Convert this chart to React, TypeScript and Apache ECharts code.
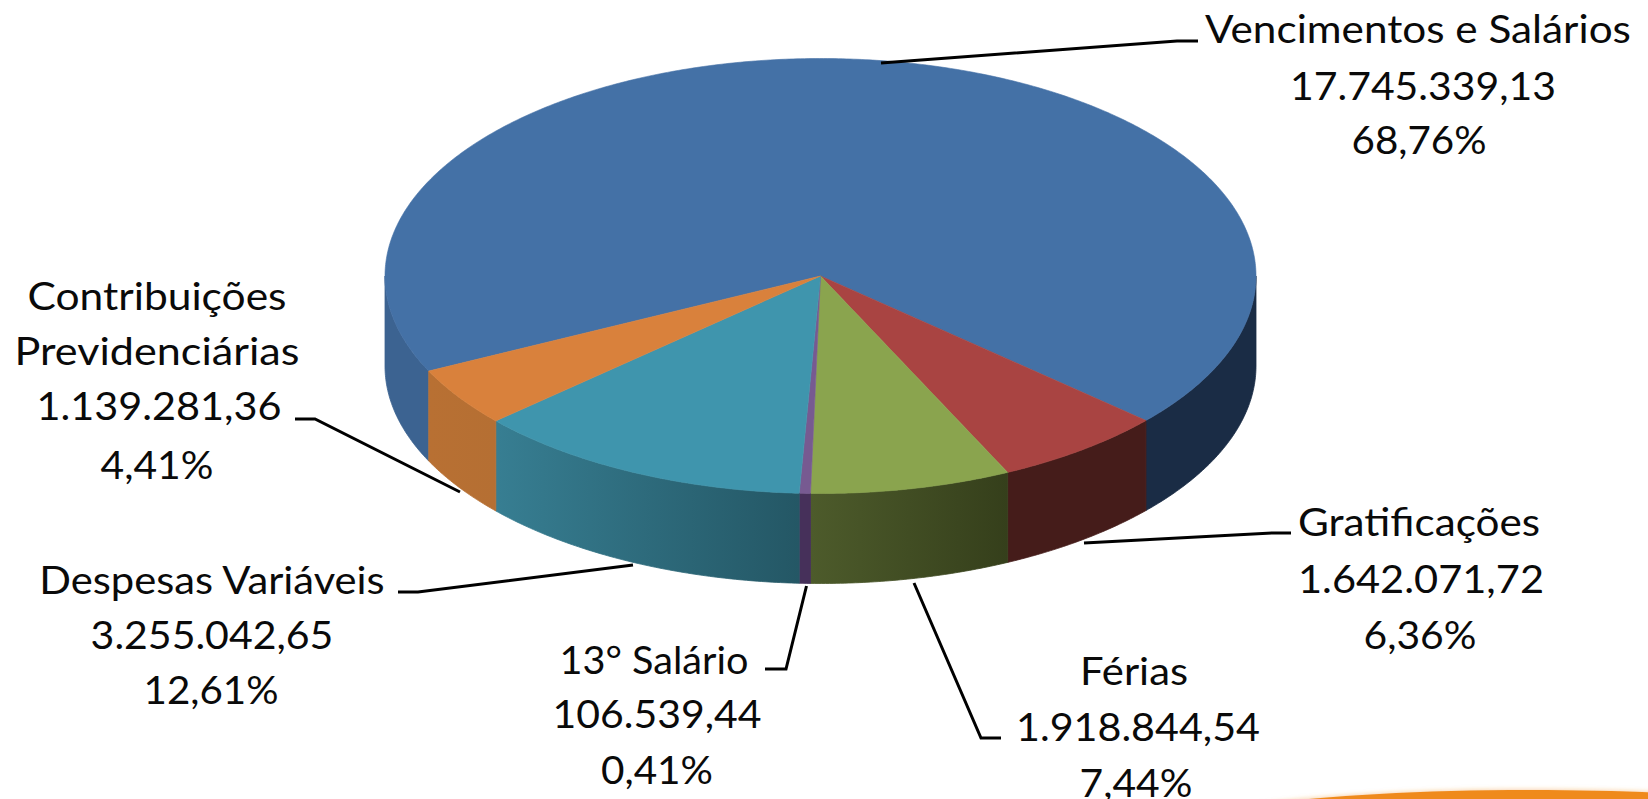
import React, { useEffect, useRef } from "react";
import * as echarts from "echarts";

const categories = ["Vencimentos e Salários", "Gratificações", "Férias", "13° Salário", "Despesas Variáveis", "Contribuições Previdenciárias"];
const values = [17745339.13, 1642071.72, 1918844.54, 106539.44, 3255042.65, 1139281.36];
const valueLabels = ["17.745.339,13", "1.642.071,72", "1.918.844,54", "106.539,44", "3.255.042,65", "1.139.281,36"];
const percentLabels = ["68,76%", "6,36%", "7,44%", "0,41%", "12,61%", "4,41%"];

const topColors = ["#4471a6", "#a94442", "#8aa44e", "#775a91", "#3f95ad", "#d9813c"];
const sideLeft = ["#3c6391", "#451c1a", "#4d5b2b", "#46305a", "#377e92", "#b87033"];
const sideRight = ["#1a2c45", "#451c1a", "#353f1b", "#46305a", "#245765", "#b56f33"];

const CX = 820.5, CY = 276, RX = 435.5, RY = 217.5, DEPTH = 90, START_DEG = 154.1;
const FONT_SIZE = 38, FONT = "Lato";

// one entry per label line: [text, centre x, centre y, target width]
const labelLines: [string, number, number, number][] = [
  [categories[0], 1418, 28, 426],
  [valueLabels[0], 1423, 85, 266],
  [percentLabels[0], 1419, 139, 135],
  [categories[1], 1419, 521, 242],
  [valueLabels[1], 1421, 578, 246],
  [percentLabels[1], 1420, 634, 113],
  [categories[2], 1134, 671, 108],
  [valueLabels[2], 1138, 726, 244],
  [percentLabels[2], 1136, 782, 113],
  [categories[3], 654, 659, 189],
  [valueLabels[3], 657, 713, 209],
  [percentLabels[3], 657, 769, 112],
  [categories[4], 212, 579, 347],
  [valueLabels[4], 212, 634, 243],
  [percentLabels[4], 211, 689, 135],
  ["Contribuições", 157, 295, 259],
  ["Previdenciárias", 157, 351, 285],
  [valueLabels[5], 159, 405, 245],
  [percentLabels[5], 157, 464, 113],
];

const leaderLines: [number, number][][] = [
  [[881, 63], [1177, 41], [1198, 41]],
  [[1084, 543], [1272, 533], [1291, 533]],
  [[914, 583], [981, 738], [1001, 738]],
  [[806.5, 586], [786, 669], [765, 669]],
  [[633, 565], [418, 592], [398, 592]],
  [[460, 492], [315, 419], [295, 419]],
];

const total = values.reduce((a, b) => a + b, 0);

const rim = (deg: number, dy = 0): [number, number] => {
  const r = (deg * Math.PI) / 180;
  return [CX + RX * Math.cos(r), CY + RY * Math.sin(r) + dy];
};
const arc = (a: number, b: number, dy = 0) => {
  const n = Math.max(2, Math.ceil(Math.abs(b - a) / 0.5));
  const pts: [number, number][] = [];
  for (let i = 0; i <= n; i++) pts.push(rim(a + ((b - a) * i) / n, dy));
  return pts;
};

const renderSlice = (params: any, api: any) => {
  const idx = params.dataIndex;
  let before = 0;
  for (let i = 0; i < idx; i++) before += values[i];
  const a = START_DEG + (before / total) * 360;
  const b = a + (api.value(0) / total) * 360;
  const children: any[] = [];
  [[0, 180], [360, 540]].forEach(([lo, hi]) => {
    const s = Math.max(a, lo), e = Math.min(b, hi);
    if (e <= s) return;
    const top = arc(s, e);
    const bottom = arc(e, s, DEPTH);
    const leftCol = lo === 0 && idx === 0 ? sideLeft[idx] : lo === 360 && idx === 0 ? sideRight[idx] : null;
    const fill = leftCol
      ? leftCol
      : new echarts.graphic.LinearGradient(0, 0, 1, 0, [
          { offset: 0, color: sideLeft[idx] },
          { offset: 1, color: sideRight[idx] },
        ]);
    children.push({
      type: "polygon",
      shape: { points: [...top, ...bottom] },
      style: { fill, stroke: fill, lineWidth: 0.8 },
    });
  });
  children.push({
    type: "polygon",
    shape: { points: [[CX, CY], ...arc(a, b)] },
    style: { fill: topColors[idx], stroke: topColors[idx], lineWidth: 0.6 },
  });
  return { type: "group", children };
};

const measureCtx = document.createElement("canvas").getContext("2d")!;
const fitScale = (text: string, width: number) => {
  measureCtx.font = `${FONT_SIZE}px ${FONT}`;
  return width / measureCtx.measureText(text).width;
};

export default function App() {
  const ref = useRef<HTMLDivElement>(null);
  useEffect(() => {
    document.body.style.margin = "0";
    const chart = echarts.init(ref.current!, undefined, { renderer: "svg" });
    chart.setOption({
      animation: false,
      backgroundColor: "#ffffff",
      series: [
        {
          type: "custom",
          coordinateSystem: "none",
          silent: true,
          data: values.map((v, i) => ({ name: categories[i], value: [v] })),
          renderItem: renderSlice,
        },
      ],
      graphic: [
        {
          type: "ellipse",
          shape: { cx: 1530, cy: 830, rx: 350, ry: 40 },
          style: { fill: "#ef8a1d", shadowBlur: 5, shadowColor: "rgba(239,138,29,0.5)" },
          z: 1,
        },
        ...leaderLines.map((points) => ({
          type: "polyline",
          shape: { points },
          style: { stroke: "#000000", lineWidth: 3, fill: null },
          z: 5,
        })),
        ...labelLines.map(([text, x, y, w]) => ({
          type: "text",
          x,
          y,
          scaleX: fitScale(text, w),
          style: {
            text,
            fill: "#0a0a0a",
            font: `${FONT_SIZE}px ${FONT}`,
            textAlign: "center",
            textVerticalAlign: "middle",
          },
          z: 6,
        })),
      ],
    });
    return () => chart.dispose();
  }, []);
  return <div ref={ref} style={{ position: "absolute", left: 0, top: 0, width: 1648, height: 799 }} />;
}
